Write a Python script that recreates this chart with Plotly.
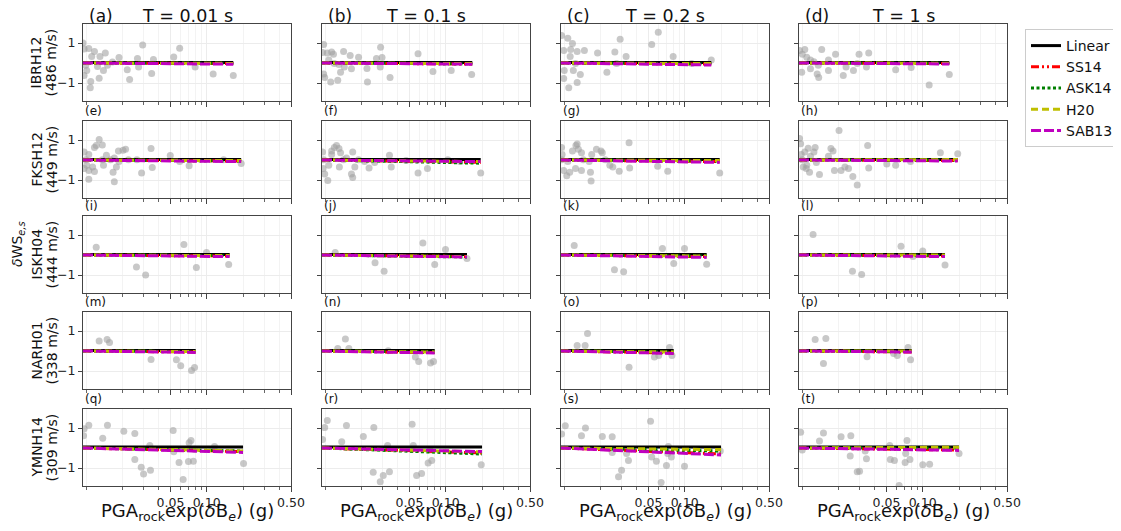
import math
import plotly.graph_objects as go

# ---------------- data ----------------
stations = ["IBRH12", "FKSH12", "ISKH04", "NARH01", "YMNH14"]
vs30 = ["486 m/s", "449 m/s", "444 m/s", "338 m/s", "309 m/s"]
periods = ["0.01", "0.1", "0.2", "1"]
letters = list("abcdefghijklmnopqrst")
models = ["Linear", "SS14", "ASK14", "H20", "SAB13"]

# residual points (x: PGA_rock exp(dB_e) in g, y: dWS_e,s)
a_x = [0.0096, 0.0105, 0.0117, 0.0111, 0.0130, 0.0144, 0.0099, 0.0101, 0.0096, 0.0109, 0.0108, 0.0128, 0.0139, 0.0124, 0.0150, 0.0165, 0.0187, 0.0219, 0.0229, 0.0266, 0.0272, 0.0294, 0.0349, 0.0361, 0.0532, 0.0596, 0.0801, 0.113, 0.166, 0.0094]
a_y = [0.70, 0.72, 0.58, 0.32, 0.32, 0.50, -0.11, -0.37, -0.63, -0.93, -1.24, -0.76, -0.37, -0.17, -0.11, 0.05, 0.27, -0.34, -0.83, 0.23, -0.20, 0.90, -0.53, 0.18, 0.30, 0.74, -0.20, -0.55, -0.63, 1.0]
b_x = [0.0095, 0.0097, 0.0104, 0.0113, 0.0117, 0.0107, 0.0119, 0.0130, 0.0142, 0.0161, 0.0144, 0.0134, 0.0111, 0.0127, 0.0097, 0.0099, 0.0165, 0.0189, 0.0222, 0.0224, 0.0266, 0.0288, 0.0296, 0.0286, 0.0345, 0.0589, 0.0783, 0.111, 0.164]
b_y = [0.53, 0.93, 0.50, 0.55, 0.44, 0.15, -0.03, -0.08, 0.58, 0.37, -0.20, -0.46, -0.95, -0.86, -0.55, -0.72, -0.29, 0.29, -0.27, -0.95, 0.23, 0.79, 0.27, -0.20, -0.72, 0.46, -0.43, -0.37, -0.58]
c_x = [0.0095, 0.0107, 0.0117, 0.0099, 0.0113, 0.0128, 0.0147, 0.0112, 0.0124, 0.0100, 0.0119, 0.0136, 0.0099, 0.0128, 0.0109, 0.0189, 0.0226, 0.0263, 0.0291, 0.0272, 0.0326, 0.0532, 0.0603, 0.0801, 0.114, 0.166]
c_y = [1.37, 1.24, 0.97, 0.63, 0.67, 0.58, 0.62, 0.32, -0.03, -0.37, -0.37, -0.58, -0.77, -0.98, -1.24, 0.50, -0.46, 0.55, 1.19, -0.03, 0.32, 0.93, 1.54, 0.32, -0.03, 0.15]
d_x = [0.0095, 0.0105, 0.0100, 0.0109, 0.0117, 0.0125, 0.0136, 0.0099, 0.0117, 0.0133, 0.0137, 0.0145, 0.0165, 0.0189, 0.0219, 0.0231, 0.0266, 0.0286, 0.0296, 0.0356, 0.0341, 0.0596, 0.0801, 0.113, 0.166, 0.0165]
d_y = [0.63, 0.67, 0.44, 0.29, 0.15, 0.06, -0.11, -0.46, -0.29, -0.55, -0.72, 0.67, -0.37, 0.44, -0.63, -0.20, -0.37, -0.03, 0.44, 0.50, -0.20, -0.34, -0.23, -1.10, -0.58, 0.15]
e_x = [0.0096, 0.0105, 0.0099, 0.0101, 0.0096, 0.0105, 0.0105, 0.0113, 0.0117, 0.0117, 0.0121, 0.0128, 0.0136, 0.0136, 0.0147, 0.0139, 0.0159, 0.0171, 0.0167, 0.0171, 0.0178, 0.0185, 0.0187, 0.0202, 0.0212, 0.0224, 0.0263, 0.0288, 0.0345, 0.0353, 0.0498, 0.0596, 0.0714, 0.138, 0.193]
e_y = [0.40, 0.27, 0.01, -0.26, -0.43, -0.52, -0.96, -0.35, -0.58, 0.63, 0.72, 1.02, 0.75, 0.01, 0.24, -0.26, 0.01, 0.10, -0.61, -1.09, -0.35, 0.45, -0.08, 0.49, 0.54, 0.01, 0.01, -0.65, 0.58, -0.38, 0.22, -0.08, -0.29, 0.01, -0.17]
f_x = [0.0095, 0.0097, 0.0096, 0.0099, 0.0105, 0.0107, 0.0113, 0.0113, 0.0119, 0.0124, 0.0130, 0.0134, 0.0142, 0.0150, 0.0131, 0.0169, 0.0176, 0.0169, 0.0165, 0.0189, 0.0212, 0.0231, 0.0257, 0.0341, 0.0353, 0.0469, 0.0589, 0.0705, 0.104, 0.131, 0.195]
f_y = [0.40, 0.01, -0.43, -0.70, -1.02, -0.26, 0.27, 0.45, 0.63, 0.72, 0.58, 0.36, 0.01, 0.10, -0.35, 0.40, -0.35, -0.88, -0.70, 0.01, -0.08, -0.40, -0.12, 0.24, -0.35, -0.03, -0.65, -0.43, 0.01, -0.08, -0.65]
g_x = [0.0095, 0.0096, 0.0095, 0.0099, 0.0105, 0.0111, 0.0107, 0.0117, 0.0125, 0.0128, 0.0131, 0.0139, 0.0124, 0.0139, 0.0144, 0.0161, 0.0165, 0.0167, 0.0169, 0.0185, 0.0202, 0.0207, 0.0219, 0.0239, 0.0253, 0.0286, 0.0345, 0.0349, 0.0596, 0.0722, 0.195]
g_y = [0.63, 0.27, 0.01, -0.52, -0.79, -0.61, -0.08, 0.45, 0.72, 0.80, 0.54, 0.36, -0.43, -0.52, 0.01, -0.08, -0.61, -1.05, 0.27, 0.54, 0.45, 0.36, 0.01, -0.26, -0.35, -0.56, 0.86, -0.40, -0.31, -0.56, -0.65]
h_x = [0.0095, 0.0097, 0.0098, 0.0100, 0.0102, 0.0109, 0.0105, 0.0112, 0.0117, 0.0125, 0.0128, 0.0131, 0.0139, 0.0115, 0.0108, 0.0165, 0.0173, 0.0180, 0.0185, 0.0202, 0.0210, 0.0226, 0.0242, 0.0263, 0.0286, 0.0349, 0.0356, 0.0503, 0.0596, 0.0792, 0.140, 0.195]
h_y = [1.07, 0.81, 0.27, 0.01, -0.35, -0.26, 0.40, 0.59, 0.19, 0.40, 0.63, -0.12, -0.73, -0.61, -0.43, 0.19, 0.58, 0.45, -0.52, 1.48, -0.52, -0.35, -0.43, -0.82, -1.25, 0.72, -0.40, -0.20, -0.26, -0.08, 0.36, 0.31]
i_x = [0.0121, 0.0261, 0.0311, 0.0646, 0.0820, 0.0995, 0.152]
i_y = [0.39, -0.60, -1.00, 0.53, -0.62, 0.13, -0.48]
j_x = [0.0121, 0.0259, 0.0308, 0.0646, 0.0810, 0.0995, 0.150]
j_y = [0.13, -0.39, -0.81, 0.60, -0.48, 0.27, -0.17]
k_x = [0.0121, 0.0261, 0.0311, 0.0653, 0.0810, 0.0995, 0.152]
k_y = [0.48, -0.74, -0.84, 0.32, -0.43, 0.32, -0.46]
l_x = [0.0123, 0.0261, 0.0311, 0.0660, 0.0829, 0.100, 0.153]
l_y = [1.03, -0.81, -0.97, 0.44, -0.08, 0.20, -0.50]
m_x = [0.0128, 0.0149, 0.0156, 0.0345, 0.0560, 0.0608, 0.0748, 0.0792]
m_y = [0.50, 0.57, 0.43, -0.43, -0.44, -0.74, -0.97, -0.83]
n_x = [0.0127, 0.0147, 0.0157, 0.0333, 0.0560, 0.0596, 0.0748, 0.0792]
n_y = [0.13, 0.60, 0.13, 0.01, -0.30, -0.53, -0.60, -0.53]
o_x = [0.0128, 0.0149, 0.0156, 0.0345, 0.0560, 0.0608, 0.0748, 0.0783]
o_y = [0.27, 0.27, 0.88, -0.81, -0.30, -0.22, 0.17, -0.23]
p_x = [0.0128, 0.0157, 0.0150, 0.0345, 0.0573, 0.0615, 0.0755, 0.0792]
p_y = [0.58, 0.62, -0.63, -0.29, -0.13, -0.23, 0.18, -0.44]
q_x = [0.0095, 0.0096, 0.0105, 0.0137, 0.0150, 0.0205, 0.0253, 0.0337, 0.0253, 0.0286, 0.0299, 0.0341, 0.0526, 0.0532, 0.0589, 0.0637, 0.0705, 0.0714, 0.0740, 0.0774, 0.0792, 0.116, 0.202]
q_y = [0.61, 0.96, 1.14, 0.49, 1.14, 0.84, 0.72, 0.12, -0.58, -0.96, -1.30, -1.11, 0.88, -0.19, -0.73, -1.57, -0.68, 0.26, 0.38, -0.66, -0.06, 0.08, -0.77]
r_x = [0.0095, 0.0099, 0.0104, 0.0137, 0.0150, 0.0207, 0.0253, 0.0329, 0.0250, 0.0286, 0.0303, 0.0341, 0.0526, 0.0538, 0.0573, 0.0630, 0.0714, 0.0765, 0.0740, 0.197]
r_y = [0.43, 1.02, 1.37, 0.31, 1.12, 0.58, 1.02, 0.12, -1.21, -1.69, -1.37, -1.19, 1.19, 0.12, -1.37, -1.28, -0.75, -0.63, -0.10, -0.84]
s_x = [0.0095, 0.0102, 0.0139, 0.0150, 0.0207, 0.0250, 0.0250, 0.0329, 0.0341, 0.0299, 0.0282, 0.0520, 0.0532, 0.0582, 0.0637, 0.0705, 0.0731, 0.0722, 0.0774, 0.0995, 0.197]
s_y = [0.70, 1.11, 0.61, 1.00, 0.58, 0.56, -0.22, -0.27, -0.63, -1.11, -1.44, 1.34, -0.45, -0.66, -1.73, -0.88, 0.08, -0.27, -0.45, -0.91, -0.15]
t_x = [0.0097, 0.0100, 0.0139, 0.0150, 0.0210, 0.0253, 0.0250, 0.0286, 0.0299, 0.0333, 0.0341, 0.0532, 0.0538, 0.0582, 0.0637, 0.0714, 0.0740, 0.0722, 0.0783, 0.100, 0.114, 0.200]
t_y = [0.79, -0.10, 0.35, 0.75, 0.56, 0.61, -0.40, -1.19, -1.16, -0.15, -0.54, 0.13, -0.58, -0.63, -1.87, -0.72, 0.38, -0.27, -0.58, -0.84, -0.81, -0.27]

points_x = [a_x, b_x, c_x, d_x, e_x, f_x, g_x, h_x, i_x, j_x, k_x, l_x, m_x, n_x, o_x, p_x, q_x, r_x, s_x, t_x]
points_y = [a_y, b_y, c_y, d_y, e_y, f_y, g_y, h_y, i_y, j_y, k_y, l_y, m_y, n_y, o_y, p_y, q_y, r_y, s_y, t_y]

# model curves: start at left edge, end at x_end (per row, per column)
x_start = 0.0094
x_end = [[0.166, 0.166, 0.166, 0.166],
         [0.193, 0.195, 0.195, 0.195],
         [0.155, 0.150, 0.152, 0.153],
         [0.081, 0.081, 0.081, 0.081],
         [0.200, 0.200, 0.200, 0.200]]
linear_start = [[0.02] * 4, [0.02] * 4, [0.02] * 4, [0.02] * 4, [0.05] * 4]
linear_end = [[0.02] * 4, [0.02] * 4, [0.02] * 4, [0.02] * 4, [0.05] * 4]
ss14_end = [[-0.03, -0.05, -0.05, -0.03], [-0.05, -0.12, -0.08, -0.03], [-0.05, -0.08, -0.08, -0.05], [-0.05, -0.08, -0.10, -0.05], [-0.18, -0.25, -0.30, -0.10]]
ask14_end = [[-0.02, -0.04, -0.04, -0.02], [-0.05, -0.16, -0.05, 0.00], [-0.03, -0.10, -0.05, -0.02], [-0.03, -0.05, -0.05, -0.03], [-0.15, -0.30, -0.15, 0.00]]
h20_end = [[-0.02, -0.03, -0.03, -0.01], [-0.03, -0.08, -0.03, 0.02], [-0.03, -0.08, -0.05, 0.00], [-0.03, -0.05, -0.05, 0.00], [-0.15, -0.20, -0.08, 0.04]]
sab13_end = [[-0.06, -0.06, -0.10, -0.05], [-0.08, -0.08, -0.12, -0.05], [-0.08, -0.10, -0.12, -0.08], [-0.07, -0.10, -0.12, -0.05], [-0.22, -0.18, -0.35, -0.12]]
model_start = [linear_start, None, None, None, None]
model_end = [linear_end, ss14_end, ask14_end, h20_end, sab13_end]

# ---------------- styling ----------------
PAGE_OFF = 8                       # browser default body margin
W, H = 1121 - PAGE_OFF, 531 - PAGE_OFF
colors = ["#000000", "#ff0000", "#008000", "#bfbf00", "#bf00bf"]
dashes = ["solid", "8px,3px,2px,3px,2px,3px", "3px,2.5px", "7px,4px", "10px,3px"]
col_left = [83, 322, 561, 799]     # page pixels
ax_w = 208
row_top = [24, 121, 216, 312, 409]
ax_h = 77


def px(x):
    return (x - PAGE_OFF) / W


def py(y):
    return 1 - (y - PAGE_OFF) / H


fig = go.Figure()
layout = {}
annotations = []

minor_vals = [0.01, 0.02, 0.03, 0.04, 0.06, 0.07, 0.08, 0.09, 0.2, 0.3, 0.4]
tick_font = dict(size=12.5, color="#222")

for r in range(5):
    for c in range(4):
        idx = r * 4 + c
        k = idx + 1
        xa = "x" if k == 1 else f"x{k}"
        ya = "y" if k == 1 else f"y{k}"
        xname = "xaxis" if k == 1 else f"xaxis{k}"
        yname = "yaxis" if k == 1 else f"yaxis{k}"
        layout[xname] = dict(
            domain=[px(col_left[c]), px(col_left[c] + ax_w)], anchor=ya, type="log",
            range=[math.log10(0.0094), math.log10(0.5)],
            tickmode="array", tickvals=[0.05, 0.1, 0.5],
            ticktext=["0.05", "0.10", "0.50"], showticklabels=(r == 4),
            ticks="outside", ticklen=5, tickcolor="#444", tickfont=tick_font,
            minor=dict(tickmode="array", tickvals=minor_vals, ticks="outside",
                       ticklen=3, tickcolor="#666", showgrid=True,
                       gridcolor="#f3f3f3", gridwidth=1),
            showgrid=True, gridcolor="#ececec", gridwidth=1,
            showline=True, mirror=True, linecolor="#444", linewidth=1,
            zeroline=False,
        )
        layout[yname] = dict(
            domain=[py(row_top[r] + ax_h), py(row_top[r])], anchor=xa, range=[-1.9, 1.95],
            tickmode="array", tickvals=[-1, 1], ticktext=["\u22121", "1"],
            showticklabels=(c == 0), ticks="outside", ticklen=4, tickcolor="#444",
            tickfont=tick_font,
            showgrid=True, gridcolor="#ececec", gridwidth=1,
            showline=True, mirror=True, linecolor="#444", linewidth=1,
            zeroline=False,
        )
        fig.add_trace(go.Scatter(
            x=points_x[idx], y=points_y[idx], mode="markers",
            marker=dict(color="rgba(160,160,160,0.58)", size=7, line=dict(width=0)),
            xaxis=xa, yaxis=ya, showlegend=False, hoverinfo="skip",
        ))
        for m in range(5):
            ys = model_start[m][r][c] if model_start[m] is not None else 0.0
            ye = model_end[m][r][c]
            fig.add_trace(go.Scatter(
                x=[x_start, x_end[r][c]], y=[ys, ye], mode="lines",
                line=dict(color=colors[m], width=3, dash=dashes[m]),
                name=models[m], showlegend=(idx == 0),
                xaxis=xa, yaxis=ya, hoverinfo="skip",
            ))
        if r == 0:
            annotations.append(dict(
                text=f"({letters[idx]})", x=px(col_left[c] + 4), y=py(16),
                xref="paper", yref="paper", xanchor="left", yanchor="middle",
                showarrow=False, font=dict(size=17, color="#111")))
            annotations.append(dict(
                text=f"T = {periods[c]} s", x=px(col_left[c] + ax_w / 2), y=py(16),
                xref="paper", yref="paper", xanchor="center", yanchor="middle",
                showarrow=False, font=dict(size=17.5, color="#111")))
        else:
            annotations.append(dict(
                text=f"({letters[idx]})", x=px(col_left[c]), y=py(row_top[r] - 10),
                xref="paper", yref="paper", xanchor="left", yanchor="middle",
                showarrow=False, font=dict(size=12, color="#111")))
    yc = row_top[r] + ax_h / 2
    annotations.append(dict(
        text=stations[r], x=px(36), y=py(yc),
        xref="paper", yref="paper", xanchor="center", yanchor="middle",
        textangle=-90, showarrow=False, font=dict(size=14, color="#111")))
    annotations.append(dict(
        text=f"({vs30[r]})", x=px(51), y=py(yc),
        xref="paper", yref="paper", xanchor="center", yanchor="middle",
        textangle=-90, showarrow=False, font=dict(size=14, color="#111")))

annotations.append(dict(
    text="<i>\u03b4</i>WS<sub><i>e,s</i></sub>", x=px(18), y=py(244),
    xref="paper", yref="paper", xanchor="center", yanchor="middle",
    textangle=-90, showarrow=False, font=dict(size=14, color="#111")))

for c in range(4):
    annotations.append(dict(
        text="PGA<sub>rock</sub>exp(<i>\u03b4</i>B<sub><i>e</i></sub>) (g)",
        x=px(col_left[c] + ax_w / 2), y=py(512),
        xref="paper", yref="paper", xanchor="center", yanchor="middle",
        showarrow=False, font=dict(size=18, color="#111")))

fig.update_layout(
    width=W, height=H, margin=dict(l=0, r=0, t=0, b=0, autoexpand=False),
    paper_bgcolor="white", plot_bgcolor="white",
    font=dict(family="DejaVu Sans", color="#111"),
    annotations=annotations,
    legend=dict(x=px(1119), y=py(29), xanchor="right", yanchor="top",
                bgcolor="white", bordercolor="#cccccc", borderwidth=1,
                font=dict(size=14, color="#111"), itemwidth=30,
                tracegroupgap=0),
    **layout,
)

fig.write_html("out.html")
